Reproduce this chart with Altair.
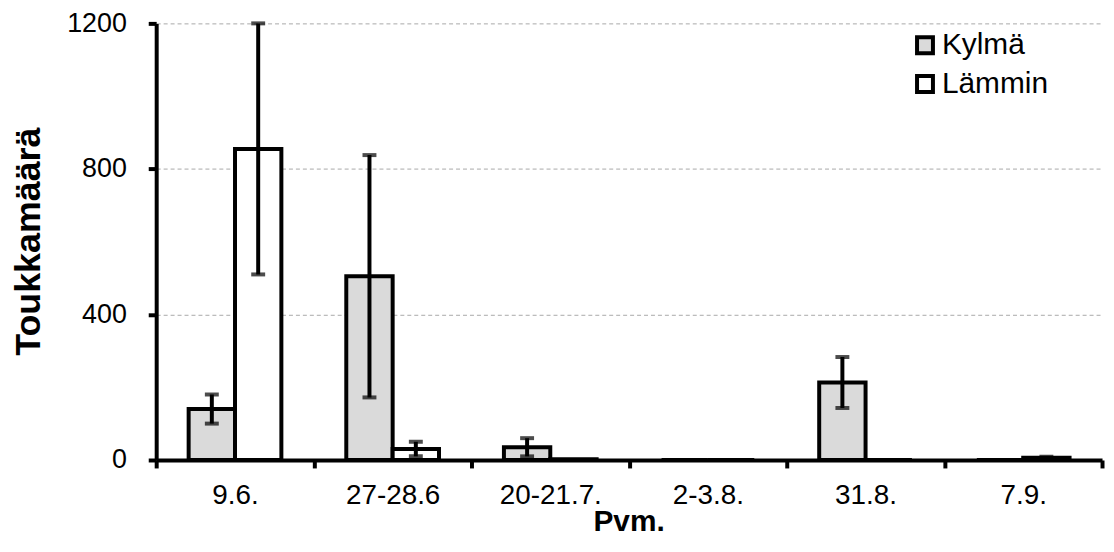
import altair as alt
import pandas as pd

dates = ["9.6.", "27-28.6", "20-21.7.", "2-3.8.", "31.8.", "7.9."]
series = ["Kylmä", "Lämmin"]
kylma = [140, 505, 35, 0, 213, 0]
kylma_err = [40, 333, 25, 0, 70, 0]
lammin = [855, 30, 2, 0, 0, 6]
lammin_err = [345, 20, 0, 0, 0, 3]
y_ticks = [0, 400, 800, 1200]
fills = ["#dadada", "#ffffff"]

rows = []
for i, d in enumerate(dates):
    rows.append(dict(pvm=d, sarja="Kylmä", arvo=kylma[i], virhe=kylma_err[i]))
    rows.append(dict(pvm=d, sarja="Lämmin", arvo=lammin[i], virhe=lammin_err[i]))
df = pd.DataFrame(rows)
df["ala"] = df["arvo"] - df["virhe"]
df["yla"] = df["arvo"] + df["virhe"]
err = df[df["virhe"] > 0]

FONT = "Liberation Sans"

x_axis = alt.Axis(title="Pvm.", labelAngle=0, tickBand="extent", grid=False,
                  labelBaseline="middle", labelPadding=28, labelFontSize=28,
                  titleFontSize=30, titleX=475, titleY=62, titleBaseline="middle")
y_axis = alt.Axis(title="Toukkamäärä", values=y_ticks, format="d", grid=True, labelPadding=22,
                  labelFontSize=27,
                  titleFontSize=36, titleX=-128, titleY=219, titleBaseline="middle",
                  titleAlign="center", titleAngle=-90,
                  gridDash=[4, 3], gridColor="#a8a8a8", gridWidth=1)

x_enc = alt.X("pvm:N", sort=dates, scale=alt.Scale(paddingInner=0, paddingOuter=0), axis=x_axis)
xo_enc = alt.XOffset("sarja:N", sort=series, scale=alt.Scale(paddingInner=0, paddingOuter=0.7))
y_scale = alt.Scale(domain=[0, 1200], nice=False)

bars = alt.Chart(df).mark_bar(stroke="black", strokeWidth=4).encode(
    x=x_enc,
    xOffset=xo_enc,
    y=alt.Y("arvo:Q", scale=y_scale, axis=y_axis),
    fill=alt.Fill("sarja:N", sort=series,
                  scale=alt.Scale(domain=series, range=fills),
                  legend=alt.Legend(title=None, orient="none", legendX=758, legendY=7,
                                    padding=0, symbolType="square", symbolSize=256,
                                    symbolStrokeColor="black", symbolStrokeWidth=4,
                                    labelFontSize=30, labelFont=FONT, labelColor="black",
                                    labelOffset=2, rowPadding=7)),
)

rules = alt.Chart(err).mark_rule(color="black", strokeWidth=4).encode(
    x=x_enc, xOffset=xo_enc,
    y=alt.Y("ala:Q", scale=y_scale, axis=y_axis),
    y2="yla:Q",
)
caps_lo = alt.Chart(err).mark_tick(color="black", size=14, thickness=4, orient="horizontal").encode(
    x=x_enc, xOffset=xo_enc,
    y=alt.Y("ala:Q", scale=y_scale, axis=y_axis),
)
caps_hi = alt.Chart(err).mark_tick(color="black", size=14, thickness=4, orient="horizontal").encode(
    x=x_enc, xOffset=xo_enc,
    y=alt.Y("yla:Q", scale=y_scale, axis=y_axis),
)

chart = alt.layer(bars, rules, caps_lo, caps_hi).properties(
    width=951, height=439,
    autosize=alt.AutoSizeParams(type="none"),
    padding={"left": 149, "top": 14, "right": 4, "bottom": 83},
).configure_view(stroke=None).configure_axis(
    domainColor="black", domainWidth=4, tickColor="black", tickWidth=4, tickSize=8,
    labelFont=FONT, labelColor="black",
    titleFont=FONT, titleFontWeight="bold", titleColor="black",
)

chart.save("out.html", embed_options={"renderer": "svg", "actions": False})
